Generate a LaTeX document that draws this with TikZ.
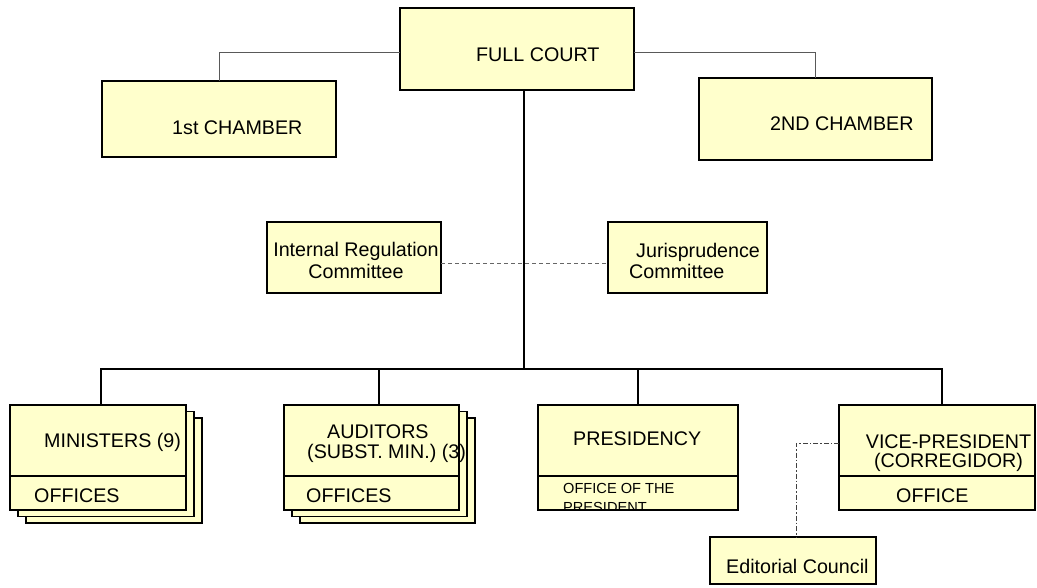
\documentclass[tikz,border=0pt]{standalone}
\usepackage{fontspec}
\setmainfont{Liberation Sans}
\definecolor{boxfill}{HTML}{FFFFCC}
\begin{document}
\begin{tikzpicture}[x=1pt,y=-1pt,
  box/.style={draw=black, line width=1.5pt, fill=boxfill, rectangle, inner sep=0pt, outer sep=0pt, anchor=north west},
  txt/.style={inner sep=0pt, anchor=base west, font=\fontsize{19.7}{22}\selectfont},
  ctxt/.style={txt, anchor=base},
  smalltxt/.style={inner sep=0pt, anchor=base west, font=\fontsize{14.6}{16}\selectfont},
  thinline/.style={draw=black!65, line width=0.9pt},
  mainline/.style={draw=black, line width=1.6pt},
  divline/.style={draw=black, line width=1.4pt},
  dashline/.style={draw=black!60, line width=0.9pt, dash pattern=on 4pt off 3pt},
  dashdotline/.style={draw=black!75, line width=0.9pt, dash pattern=on 5pt off 2pt on 1.5pt off 2pt}]
\useasboundingbox (0,0) rectangle (1037,587);

% top level
\node[box, minimum width=234pt, minimum height=82pt] (fc) at (400,8) {};
\node[box, minimum width=234pt, minimum height=76pt] (c1) at (102,81) {};
\node[box, minimum width=233pt, minimum height=82pt] (c2) at (699,78) {};
% committees
\node[box, minimum width=174pt, minimum height=71pt] (ir) at (267,222) {};
\node[box, minimum width=159pt, minimum height=71pt] (jc) at (608,222) {};
% stacked ministers
\node[box, minimum width=176pt, minimum height=105pt] (min3) at (26,418) {};
\node[box, minimum width=176pt, minimum height=105pt] (min2) at (18,411.5) {};
\node[box, minimum width=176pt, minimum height=105pt] (min) at (10,405) {};
% stacked auditors
\node[box, minimum width=175pt, minimum height=105pt] (aud3) at (300,418) {};
\node[box, minimum width=175pt, minimum height=105pt] (aud2) at (292,411.5) {};
\node[box, minimum width=175pt, minimum height=105pt] (aud) at (284,405) {};
% presidency, vice-president, editorial
\node[box, minimum width=200pt, minimum height=105pt] (pres) at (538,405) {};
\node[box, minimum width=196pt, minimum height=105pt] (vp) at (839,405) {};
\node[box, minimum width=166pt, minimum height=47pt] (ed) at (710,537) {};

% dividers
\foreach \b in {min,aud,pres,vp}
  \draw[divline] ([yshift=-18.5pt]\b.west) -- ([yshift=-18.5pt]\b.east);

% texts
\node[txt] (tfc) at (476,61.7) {FULL COURT};
\node[txt] (tc1) at (172,134) {1st CHAMBER};
\node[txt] (tc2) at (770,130) {2ND CHAMBER};
\node[ctxt] (tir1) at (356,256) {Internal Regulation};
\node[ctxt] (tir2) at (356,278) {Committee};
\node[txt] (tjc1) at (636,257) {Jurisprudence};
\node[txt] (tjc2) at (629,278) {Committee};
\node[txt] (tmin1) at (44,447) {MINISTERS (9)};
\node[txt] (tmin2) at (34,502) {OFFICES};
\node[txt] (taud1) at (327,438) {AUDITORS};
\node[txt] (taud2) at (307,458) {(SUBST. MIN.) (3)};
\node[txt] (taud3) at (306,502) {OFFICES};
\node[txt] (tpres1) at (573,445) {PRESIDENCY};
\begin{scope}
  \clip (538,477) rectangle (738,509.3);
  \node[smalltxt] (tpres2) at (563,493) {OFFICE OF THE};
  \node[smalltxt] (tpres3) at (563,512) {PRESIDENT};
\end{scope}
\node[ctxt] (tvp1) at (948.5,448) {VICE-PRESIDENT};
\node[ctxt] (tvp2) at (948.5,467) {(CORREGIDOR)};
\node[txt] (tvp3) at (896,502) {OFFICE};
\node[txt] (ted) at (726,573) {Editorial Council};

% connectors
\draw[thinline] ([yshift=-3pt]fc.west) -| (c1.north);
\draw[thinline] ([yshift=-3pt]fc.east) -| (c2.north);
\coordinate (bus) at (524,369);
\draw[mainline] (bus |- fc.south) -- (bus);
\draw[mainline] ([xshift=3pt]min.north) |- (bus) -| ([xshift=5pt]vp.north);
\coordinate (audtop) at ([xshift=7.5pt]aud.north);
\draw[mainline] (audtop) -- (audtop |- bus);
\draw[mainline] (pres.north) -- (pres.north |- bus);
\draw[dashline] ([yshift=-5.5pt]ir.east) -- ([yshift=-5.5pt]jc.west);
\draw[dashdotline] ([yshift=14.5pt]vp.west) -| ([xshift=3pt]ed.north);
\end{tikzpicture}
\end{document}
